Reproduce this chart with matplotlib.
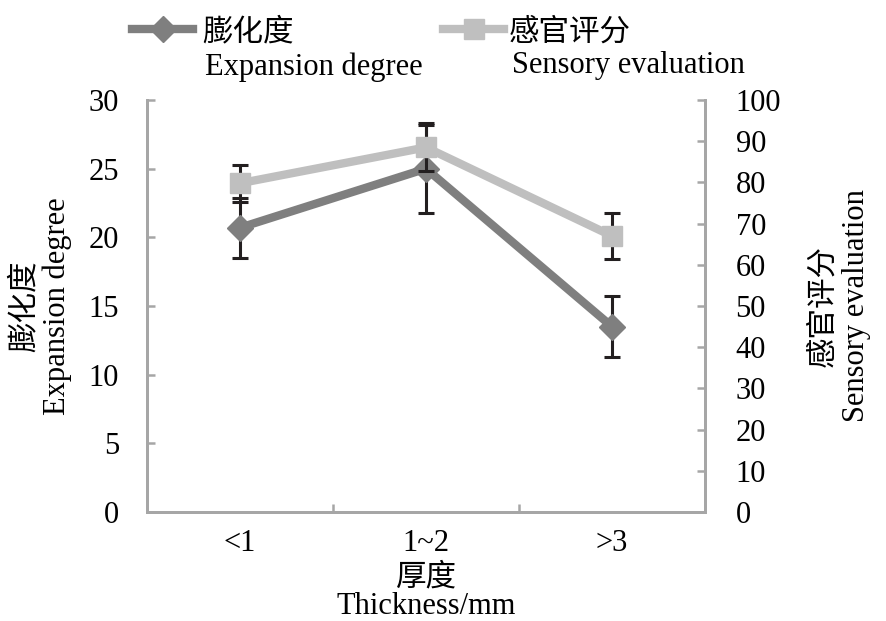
import matplotlib
matplotlib.use("Agg")
import matplotlib.pyplot as plt
from matplotlib.ticker import FixedLocator, NullFormatter

plt.rcParams['font.family'] = ['Liberation Serif', 'Noto Sans CJK SC', 'DejaVu Sans']

categories = ["<1", "1~2", ">3"]
expansion = [20.7, 25.0, 13.5]
expansion_err = [2.2, 3.2, 2.2]
sensory = [79.8, 88.5, 67.0]
sensory_err = [4.5, 5.8, 5.6]

c_exp = "#7f7f7f"
c_sen = "#bfbfbf"
c_axis = "#a6a6a6"
fs = 22

fig = plt.figure(figsize=(8.86, 6.21), dpi=100)
ax = fig.add_axes([147/886, 1-512/621, (705-147)/886, (512-100)/621])
ax2 = ax.twinx()

x = list(range(len(categories)))
l1 = ax.errorbar(x, expansion, yerr=expansion_err, color=c_exp, lw=6, marker='D', ms=13,
                 mfc=c_exp, mec=c_exp, ecolor="#231f20", elinewidth=2.2, capsize=6, capthick=2.2)
l2 = ax2.errorbar(x, sensory, yerr=sensory_err, color=c_sen, lw=6, marker='s', ms=15,
                  mfc=c_sen, mec=c_sen, ecolor="#231f20", elinewidth=2.2, capsize=6, capthick=2.2)

ax.set_xlim(-0.5, 2.5)
ax.set_ylim(0, 30)
ax2.set_ylim(0, 100)
ax.set_yticks(range(0, 31, 5))
ax2.set_yticks(range(0, 101, 10))

ax.xaxis.set_major_locator(FixedLocator([0.5, 1.5]))
ax.xaxis.set_major_formatter(NullFormatter())
ax.xaxis.set_minor_locator(FixedLocator(x))
ax.set_xticklabels(categories, minor=True)
ax.tick_params(axis='x', which='minor', length=0, labelsize=fs, pad=12)
ax.tick_params(axis='x', which='major', direction='in', length=6, width=1.8, color=c_axis)
ax.tick_params(axis='y', direction='in', length=6, width=1.8, color=c_axis, labelsize=fs, pad=20)
ax2.tick_params(axis='y', direction='in', length=6, width=1.8, color=c_axis, labelsize=fs, pad=22)

for a in (ax, ax2):
    a.spines['top'].set_visible(False)
    for s in ('left', 'right', 'bottom'):
        a.spines[s].set_color(c_axis)
        a.spines[s].set_linewidth(2)

ax.set_ylabel("膨化度\nExpansion degree", fontsize=fs, linespacing=1.15, labelpad=12)
ax2.set_ylabel("感官评分\nSensory evaluation", fontsize=fs, linespacing=1.2, labelpad=20)
ax.set_xlabel("厚度\nThickness/mm", fontsize=fs, linespacing=1.0, labelpad=4)

leg1 = fig.legend([l1[0]], ["膨化度"], loc='upper left', bbox_to_anchor=(0.118, 1.015),
                  frameon=False, fontsize=fs, handlelength=2.0, handletextpad=0.3)
leg2 = fig.legend([l2[0]], ["感官评分"], loc='upper left', bbox_to_anchor=(0.469, 1.015),
                  frameon=False, fontsize=fs, handlelength=2.0, handletextpad=0.15)
fig.text(205/886, 1-67/621, "Expansion degree", fontsize=fs, va='center', ha='left')
fig.text(512/886, 1-65/621, "Sensory evaluation", fontsize=fs, va='center', ha='left')

fig.savefig("out.png", dpi=100)
